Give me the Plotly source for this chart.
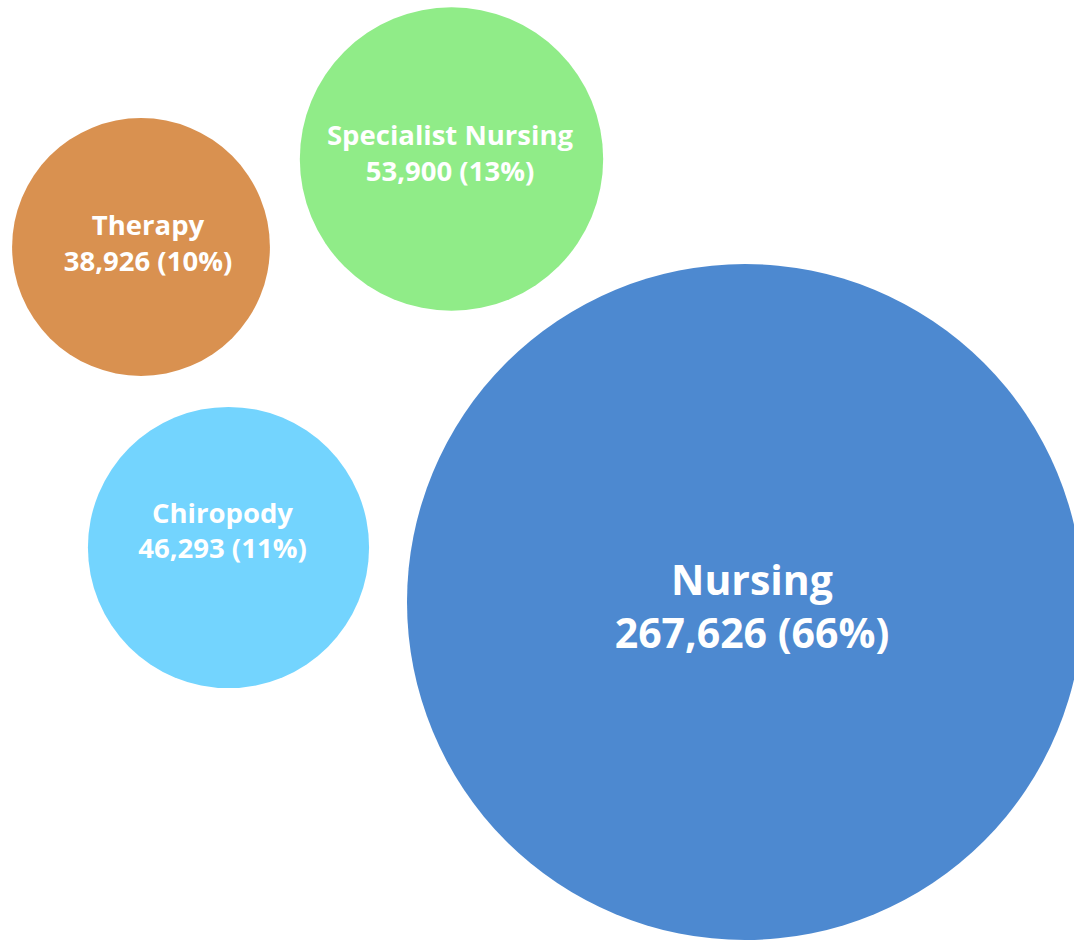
"""Packed bubble chart of activity by service type."""

import plotly.graph_objects as go

services = ["Nursing", "Specialist Nursing", "Therapy", "Chiropody"]
activity = [267626, 53900, 38926, 46293]
shares = [66, 13, 10, 11]

# bubble centres and label anchors in the pixel space of the packed layout
bubble_x = [745, 451.5, 141, 228.5]
bubble_y = [602, 159, 247, 547.5]
label_x = [752, 450, 148, 222.5]
label_y = [611, 156, 246, 533.5]

colors = ["#4D89D0", "#90EC88", "#D99150", "#73D4FE"]
label_sizes = [41, 27.5, 27.5, 27.5]

labels = [f"{s}<br>{v:,} ({p}%)" for s, v, p in zip(services, activity, shares)]

W, H = 1074, 941
max_radius = 338

fig = go.Figure()
fig.add_trace(
    go.Scatter(
        x=bubble_x,
        y=bubble_y,
        mode="markers",
        marker={
            "size": activity,
            "sizemode": "area",
            "sizeref": max(activity) / (2 * max_radius**2),
            "color": colors,
            "opacity": 1,
            "line": {"width": 0},
        },
        text=labels,
        hoverinfo="text",
    )
)
fig.add_trace(
    go.Scatter(
        x=label_x,
        y=label_y,
        mode="text",
        text=labels,
        textposition="middle center",
        textfont={
            "color": "white",
            "size": label_sizes,
            "family": "Open Sans",
            "weight": "bold",
        },
        hoverinfo="skip",
    )
)

fig.update_layout(
    width=W,
    height=H,
    margin={"l": 0, "r": 0, "t": 0, "b": 0},
    paper_bgcolor="white",
    plot_bgcolor="white",
    showlegend=False,
    font={"family": "Open Sans", "size": 27},
)
fig.update_xaxes(range=[0, W], visible=False, fixedrange=True)
fig.update_yaxes(range=[H, 0], visible=False, fixedrange=True)

# drop the default page margin so the chart fills the window edge to edge
fig.write_html(
    "out.html",
    config={"displayModeBar": False},
    post_script="document.body.style.margin = '0'; document.body.style.overflow = 'hidden';",
)
